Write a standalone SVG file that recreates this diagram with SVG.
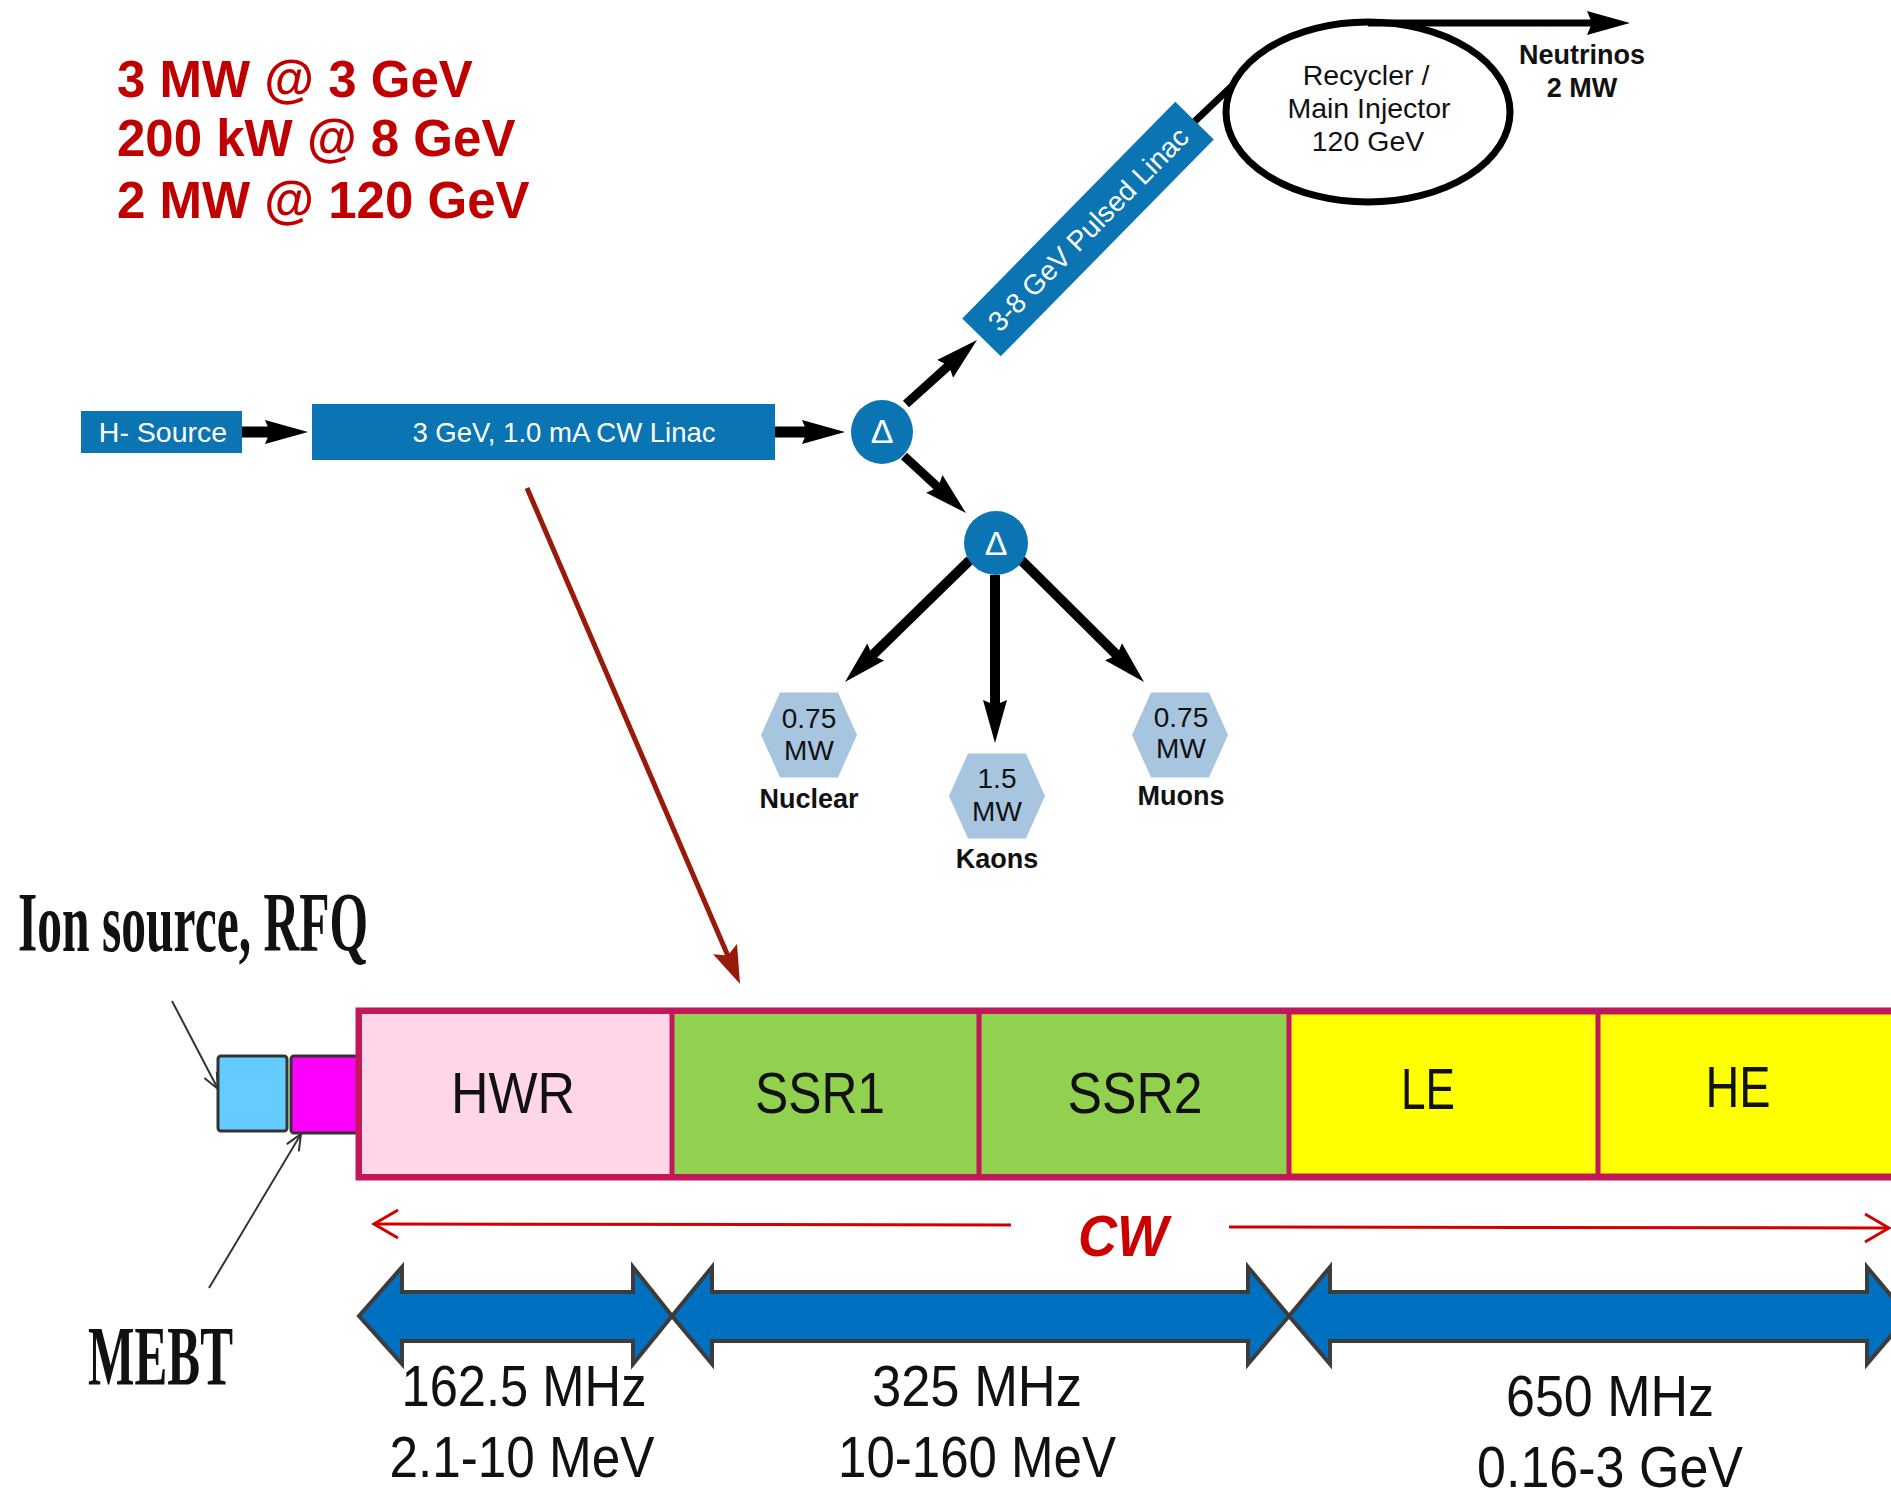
<svg xmlns="http://www.w3.org/2000/svg" width="1891" height="1496" viewBox="0 0 1891 1496">
<style>
.sans{font-family:"Liberation Sans",Arial,sans-serif}
.serif{font-family:"Liberation Serif","Times New Roman",serif}
.box{fill:#0b74b2}
.wt{fill:#fff;font-family:"Liberation Sans",Arial,sans-serif;text-anchor:middle}
.bk{fill:#111;font-family:"Liberation Sans",Arial,sans-serif;text-anchor:middle}
.hex{fill:#a8c5df}
.big{fill:#111;font-family:"Liberation Sans",Arial,sans-serif;font-size:57px;text-anchor:middle}
.arw{stroke:#000;fill:none}
.blue{fill:#0070c0;stroke:#3c3c3c;stroke-width:4;stroke-linejoin:miter}
</style>
<defs>
<marker id="bk" markerUnits="userSpaceOnUse" markerWidth="44" markerHeight="26" viewBox="0 0 44 26" refX="10" refY="13" orient="auto"><path d="M0,1 L43,13 L0,25 L5,13 Z" fill="#000"/></marker>
<marker id="rd" markerUnits="userSpaceOnUse" markerWidth="38" markerHeight="26" viewBox="0 0 38 26" refX="8" refY="13" orient="auto"><path d="M0,0 L38,13 L0,26 L7,13 Z" fill="#9a1a0a"/></marker>
<marker id="gy" markerUnits="userSpaceOnUse" markerWidth="20" markerHeight="16" viewBox="0 0 20 16" refX="18" refY="8" orient="auto"><path d="M2,1 L18,8 L2,15" fill="none" stroke="#333" stroke-width="2"/></marker>
<marker id="cw" markerUnits="userSpaceOnUse" markerWidth="30" markerHeight="32" viewBox="0 0 30 32" refX="27" refY="16" orient="auto"><path d="M3,2 L27,16 L3,30" fill="none" stroke="#d40000" stroke-width="3"/></marker>
</defs>
<rect width="1891" height="1496" fill="#fff"/>

<g id="summary" class="sans" font-weight="bold" font-size="51" fill="#c00000">
<text x="117" y="97">3 MW @ 3 GeV</text>
<text x="117" y="156">200 kW @ 8 GeV</text>
<text x="117" y="218">2 MW @ 120 GeV</text>
</g>

<g id="connectors">
<line class="arw" x1="241" y1="432" x2="275" y2="432" stroke-width="11" marker-end="url(#bk)"/>
<line class="arw" x1="775" y1="432" x2="812" y2="432" stroke-width="11" marker-end="url(#bk)"/>
<line class="arw" x1="906" y1="404" x2="952.5" y2="362.1" stroke-width="9" marker-end="url(#bk)"/>
<line class="arw" x1="904" y1="456" x2="941.7" y2="490.7" stroke-width="9" marker-end="url(#bk)"/>
<line class="arw" x1="970" y1="560" x2="868.6" y2="659" stroke-width="10" marker-end="url(#bk)"/>
<line class="arw" x1="995" y1="575" x2="995" y2="710" stroke-width="10" marker-end="url(#bk)"/>
<line class="arw" x1="1021" y1="560" x2="1120.6" y2="658.8" stroke-width="10" marker-end="url(#bk)"/>
<line class="arw" x1="1193" y1="123" x2="1233" y2="85" stroke-width="7"/>
<line class="arw" x1="1368" y1="23" x2="1597" y2="23" stroke-width="7" marker-end="url(#bk)"/>
<line x1="527" y1="488" x2="728.2" y2="956.4" stroke="#9a1a0a" stroke-width="5" marker-end="url(#rd)"/>
<line x1="172" y1="1001" x2="218" y2="1089" stroke="#333" stroke-width="2" marker-end="url(#gy)"/>
<line x1="209" y1="1288" x2="301" y2="1134" stroke="#333" stroke-width="2" marker-end="url(#gy)"/>
<line x1="1011" y1="1225" x2="374" y2="1224" stroke="#d40000" stroke-width="3" marker-end="url(#cw)"/>
<line x1="1229" y1="1227" x2="1889" y2="1228" stroke="#d40000" stroke-width="3" marker-end="url(#cw)"/>
</g>

<g id="h-source">
<rect class="box" x="81" y="411" width="161" height="42"/>
<text class="wt" x="163" y="442" font-size="28.5">H- Source</text>
</g>

<g id="cw-linac">
<rect class="box" x="312" y="404" width="463" height="56"/>
<text class="wt" x="564" y="442" font-size="27.5">3 GeV, 1.0 mA CW Linac</text>
</g>

<g id="split1">
<ellipse class="box" cx="882" cy="432" rx="31" ry="32"/>
<text class="wt" x="882" y="443" font-size="34">Δ</text>
</g>

<g id="pulsed-linac" transform="translate(1088,229) rotate(-45.5)">
<rect class="box" x="-152" y="-27" width="304" height="54"/>
<text class="wt" x="0" y="10" font-size="28">3-8 GeV Pulsed Linac</text>
</g>

<g id="recycler">
<ellipse cx="1368" cy="112" rx="142" ry="90" fill="none" stroke="#000" stroke-width="7"/>
<text class="bk" x="1366" y="85" font-size="28.5">Recycler /</text>
<text class="bk" x="1369" y="118" font-size="28.5">Main Injector</text>
<text class="bk" x="1368" y="151" font-size="28.5">120 GeV</text>
</g>

<g id="neutrinos">
<text class="bk" x="1582" y="64" font-size="27" font-weight="bold">Neutrinos</text>
<text class="bk" x="1582" y="97" font-size="27" font-weight="bold">2 MW</text>
</g>

<g id="split2">
<ellipse class="box" cx="996" cy="543" rx="32" ry="32"/>
<text class="wt" x="996" y="555" font-size="34">Δ</text>
</g>

<g id="nuclear">
<polygon class="hex" points="761,735 780,692.5 838,692.5 857,735 838,777.5 780,777.5"/>
<text class="bk" x="809" y="728" font-size="28">0.75</text>
<text class="bk" x="809" y="760" font-size="28">MW</text>
<text class="bk" x="809" y="808" font-size="27" font-weight="bold">Nuclear</text>
</g>

<g id="kaons">
<polygon class="hex" points="949,796 968,753.5 1026,753.5 1045,796 1026,838.5 968,838.5"/>
<text class="bk" x="997" y="788" font-size="28">1.5</text>
<text class="bk" x="997" y="821" font-size="28">MW</text>
<text class="bk" x="997" y="868" font-size="27" font-weight="bold">Kaons</text>
</g>

<g id="muons">
<polygon class="hex" points="1132,735 1151,692.5 1209,692.5 1228,735 1209,777.5 1151,777.5"/>
<text class="bk" x="1181" y="727" font-size="28">0.75</text>
<text class="bk" x="1181" y="758" font-size="28">MW</text>
<text class="bk" x="1181" y="805" font-size="27" font-weight="bold">Muons</text>
</g>

<g id="labels" class="serif" font-weight="bold" font-size="84" fill="#111">
<text x="18" y="951" textLength="350" lengthAdjust="spacingAndGlyphs">Ion source, RFQ</text>
<text x="88" y="1385" textLength="145" lengthAdjust="spacingAndGlyphs">MEBT</text>
</g>

<g id="ion-source"><rect x="218" y="1056" width="69" height="75" rx="3" fill="#66ccff" stroke="#333" stroke-width="3"/></g>
<g id="mebt"><rect x="291" y="1056" width="68" height="77" rx="3" fill="#ff00ff" stroke="#333" stroke-width="3"/></g>

<g id="sc-linac">
<rect x="359" y="1011" width="1600" height="166" fill="#ffff00" stroke="#c2185b" stroke-width="7"/>
<rect x="362" y="1014" width="310" height="160" fill="#ffd5e8"/>
<rect x="672" y="1014" width="617" height="160" fill="#92d050"/>
<line x1="672" y1="1011" x2="672" y2="1177" stroke="#c2185b" stroke-width="5"/>
<line x1="979" y1="1011" x2="979" y2="1177" stroke="#c2185b" stroke-width="5"/>
<line x1="1289" y1="1011" x2="1289" y2="1177" stroke="#c2185b" stroke-width="5"/>
<line x1="1598" y1="1011" x2="1598" y2="1177" stroke="#c2185b" stroke-width="5"/>
<text class="big" x="513" y="1113" textLength="124" lengthAdjust="spacingAndGlyphs">HWR</text>
<text class="big" x="820" y="1113" textLength="130" lengthAdjust="spacingAndGlyphs">SSR1</text>
<text class="big" x="1135" y="1113" textLength="135" lengthAdjust="spacingAndGlyphs">SSR2</text>
<text class="big" x="1428" y="1109" textLength="54" lengthAdjust="spacingAndGlyphs">LE</text>
<text class="big" x="1738" y="1107" textLength="65" lengthAdjust="spacingAndGlyphs">HE</text>
</g>

<g id="cw-label">
<text class="sans" x="1123" y="1256" font-size="57" font-weight="bold" font-style="italic" fill="#cc0000" text-anchor="middle" textLength="90" lengthAdjust="spacingAndGlyphs">CW</text>
</g>

<g id="band-162">
<polygon class="blue" points="359,1316 402,1267 402,1292 633,1292 633,1267 672,1316 633,1364 633,1341 402,1341 402,1364"/>
<text class="big" x="524" y="1406" textLength="245" lengthAdjust="spacingAndGlyphs">162.5 MHz</text>
<text class="big" x="522" y="1477" textLength="265" lengthAdjust="spacingAndGlyphs">2.1-10 MeV</text>
</g>
<g id="band-325">
<polygon class="blue" points="672,1316 712,1267 712,1292 1248,1292 1248,1267 1289,1316 1248,1364 1248,1341 712,1341 712,1364"/>
<text class="big" x="977" y="1406" textLength="210" lengthAdjust="spacingAndGlyphs">325 MHz</text>
<text class="big" x="977" y="1477" textLength="278" lengthAdjust="spacingAndGlyphs">10-160 MeV</text>
</g>
<g id="band-650">
<polygon class="blue" points="1289,1316 1330,1267 1330,1292 1867,1292 1867,1267 1908,1316 1867,1364 1867,1341 1330,1341 1330,1364"/>
<text class="big" x="1610" y="1416" textLength="208" lengthAdjust="spacingAndGlyphs">650 MHz</text>
<text class="big" x="1610" y="1487" textLength="266" lengthAdjust="spacingAndGlyphs">0.16-3 GeV</text>
</g>
</svg>
